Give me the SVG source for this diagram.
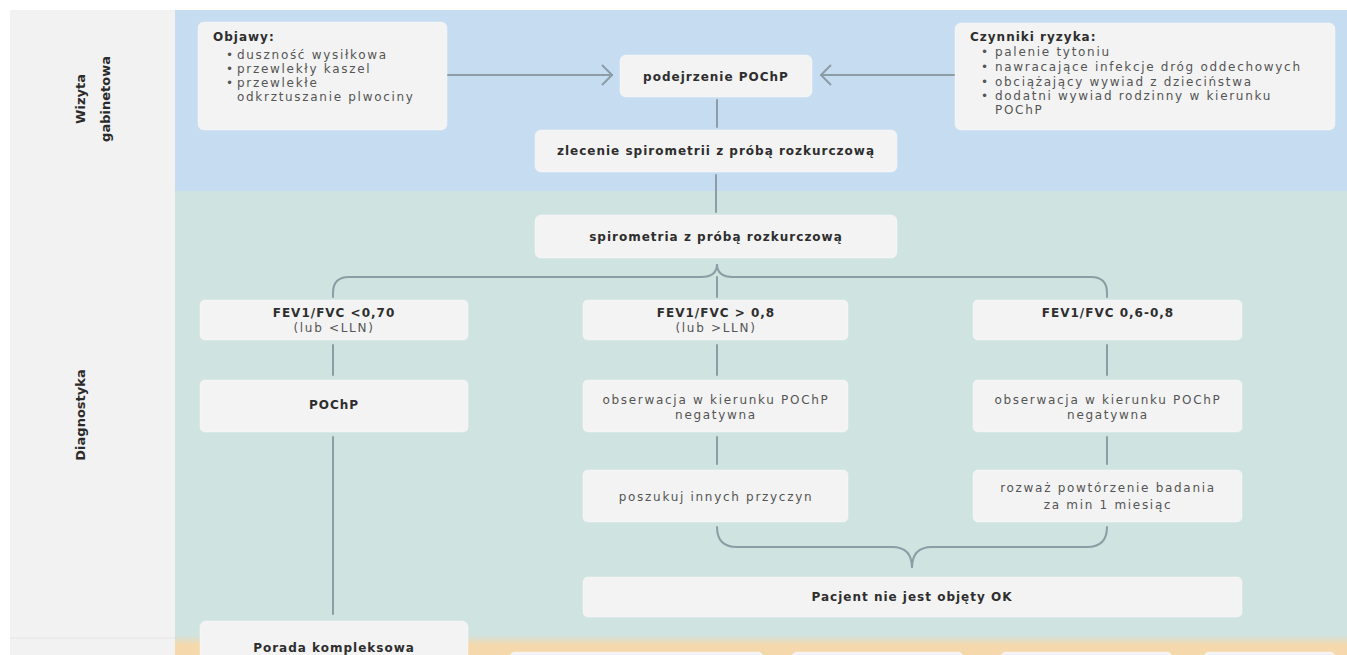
<svg xmlns="http://www.w3.org/2000/svg" width="1347" height="655" viewBox="0 0 1347 655">
<defs>
<style>
.lane-label{font-family:"DejaVu Sans",sans-serif;font-weight:bold;font-size:13px;fill:#2b2b2b;text-anchor:middle}
.b{font-family:"DejaVu Sans",sans-serif;font-weight:bold;font-size:12px;letter-spacing:1px;fill:#2e2e2e}
.r{font-family:"DejaVu Sans",sans-serif;font-size:12px;letter-spacing:1.7px;fill:#555}
.c{text-anchor:middle}
.box{fill:#f3f3f3;stroke:#ffffff;stroke-opacity:0.4;stroke-width:1}
.conn{fill:none;stroke:#8c9da5;stroke-width:2;stroke-linecap:round}
</style>
<marker id="chev" viewBox="0 0 12 22" refX="11" refY="11" markerWidth="12" markerHeight="22" markerUnits="userSpaceOnUse" orient="auto">
<path d="M1,1 L11,11 L1,21" fill="none" stroke="#8c9da5" stroke-width="2"/>
</marker>
<linearGradient id="fade" x1="0" y1="0" x2="0" y2="1">
<stop offset="0" stop-color="#cfe3e0"/>
<stop offset="1" stop-color="#f5d8ab"/>
</linearGradient>
</defs>
<rect width="1347" height="655" fill="#ffffff"/>
<g id="lanes">
<rect x="10" y="10" width="165" height="645" fill="#f2f2f2"/>
<line x1="10" y1="638" x2="175" y2="638" stroke="#e6e6e6" stroke-width="1"/>
<rect x="175" y="10" width="1172" height="181" fill="#c6dcf1"/>
<rect x="175" y="191" width="1172" height="444" fill="#cfe3e0"/>
<rect x="175" y="635" width="1172" height="10" fill="url(#fade)"/>
<rect x="175" y="645" width="1172" height="10" fill="#f5d8ab"/>
<text class="lane-label" transform="translate(85,99) rotate(-90)">Wizyta</text>
<text class="lane-label" transform="translate(110,99) rotate(-90)">gabinetowa</text>
<text class="lane-label" transform="translate(85,415) rotate(-90)">Diagnostyka</text>
</g>
<g id="connectors">
<line class="conn" x1="447" y1="75" x2="612" y2="75" marker-end="url(#chev)"/>
<line class="conn" x1="955" y1="75" x2="821" y2="75" marker-end="url(#chev)"/>
<line class="conn" x1="717" y1="100" x2="717" y2="127"/>
<line class="conn" x1="716" y1="175" x2="716" y2="212"/>
<path class="conn" d="M333,297 V293 Q333,277 349,277 H701 Q717,277 717,264 Q717,277 733,277 H1091 Q1107,277 1107,293 V297"/>
<line class="conn" x1="717" y1="277" x2="717" y2="297"/>
<line class="conn" x1="333" y1="345" x2="333" y2="375"/>
<line class="conn" x1="717" y1="345" x2="717" y2="375"/>
<line class="conn" x1="1107" y1="345" x2="1107" y2="375"/>
<line class="conn" x1="333" y1="437" x2="333" y2="614"/>
<line class="conn" x1="717" y1="437" x2="717" y2="464"/>
<line class="conn" x1="1107" y1="437" x2="1107" y2="464"/>
<path class="conn" d="M717,527 Q717,547 737,547 H892 Q912,547 912,568 Q912,547 932,547 H1087 Q1107,547 1107,527"/>
</g>
<g id="objawy">
<rect class="box" x="198" y="22" width="249" height="108" rx="6"/>
<text class="b" x="213" y="41">Objawy:</text>
<text class="r" x="226" y="59">•</text><text class="r" x="237" y="59">duszność wysiłkowa</text>
<text class="r" x="226" y="73">•</text><text class="r" x="237" y="73">przewlekły kaszel</text>
<text class="r" x="226" y="87">•</text><text class="r" x="237" y="87">przewlekłe</text>
<text class="r" x="237" y="101">odkrztuszanie plwociny</text>
</g>
<g id="podejrzenie">
<rect class="box" x="620" y="55" width="192" height="42" rx="6"/>
<text class="b c" x="716" y="81">podejrzenie POChP</text>
</g>
<g id="czynniki">
<rect class="box" x="955" y="23" width="380" height="107" rx="6"/>
<text class="b" x="970" y="41">Czynniki ryzyka:</text>
<text class="r" x="981" y="56">•</text><text class="r" x="995" y="56">palenie tytoniu</text>
<text class="r" x="981" y="71">•</text><text class="r" x="995" y="71">nawracające infekcje dróg oddechowych</text>
<text class="r" x="981" y="86">•</text><text class="r" x="995" y="86">obciążający wywiad z dzieciństwa</text>
<text class="r" x="981" y="100">•</text><text class="r" x="995" y="100">dodatni wywiad rodzinny w kierunku</text>
<text class="r" x="995" y="114">POChP</text>
</g>
<g id="zlecenie">
<rect class="box" x="535" y="130" width="362" height="42" rx="6"/>
<text class="b c" x="716" y="155">zlecenie spirometrii z próbą rozkurczową</text>
</g>
<g id="spirometria">
<rect class="box" x="535" y="215" width="362" height="43" rx="6"/>
<text class="b c" x="716" y="241">spirometria z próbą rozkurczową</text>
</g>
<g id="fev-low">
<rect class="box" x="200" y="300" width="268" height="40" rx="5"/>
<text class="b c" x="334" y="317">FEV1/FVC &lt;0,70</text>
<text class="r c" x="334" y="332">(lub &lt;LLN)</text>
</g>
<g id="fev-high">
<rect class="box" x="583" y="300" width="265" height="40" rx="5"/>
<text class="b c" x="716" y="317">FEV1/FVC &gt; 0,8</text>
<text class="r c" x="716" y="332">(lub &gt;LLN)</text>
</g>
<g id="fev-mid">
<rect class="box" x="973" y="300" width="269" height="40" rx="5"/>
<text class="b c" x="1108" y="317">FEV1/FVC 0,6-0,8</text>
</g>
<g id="pochp">
<rect class="box" x="200" y="380" width="268" height="52" rx="5"/>
<text class="b c" x="334" y="409">POChP</text>
</g>
<g id="obserwacja-1">
<rect class="box" x="583" y="380" width="265" height="52" rx="5"/>
<text class="r c" x="716" y="404">obserwacja w kierunku POChP</text>
<text class="r c" x="716" y="419">negatywna</text>
</g>
<g id="obserwacja-2">
<rect class="box" x="973" y="380" width="269" height="52" rx="5"/>
<text class="r c" x="1108" y="404">obserwacja w kierunku POChP</text>
<text class="r c" x="1108" y="419">negatywna</text>
</g>
<g id="poszukuj">
<rect class="box" x="583" y="470" width="265" height="52" rx="5"/>
<text class="r c" x="716" y="501">poszukuj innych przyczyn</text>
</g>
<g id="rozwaz">
<rect class="box" x="973" y="470" width="269" height="52" rx="5"/>
<text class="r c" x="1108" y="492">rozważ powtórzenie badania</text>
<text class="r c" x="1108" y="509">za min 1 miesiąc</text>
</g>
<g id="pacjent">
<rect class="box" x="583" y="577" width="659" height="40" rx="5"/>
<text class="b c" x="912" y="601">Pacjent nie jest objęty OK</text>
</g>
<g id="porada">
<rect class="box" x="200" y="621" width="268" height="44" rx="6"/>
<text class="b c" x="334" y="652">Porada kompleksowa</text>
</g>
<g id="bottom-1"><rect class="box" x="510" y="652" width="253" height="12" rx="5"/></g>
<g id="bottom-2"><rect class="box" x="792" y="652" width="171" height="12" rx="5"/></g>
<g id="bottom-3"><rect class="box" x="1001" y="652" width="171" height="12" rx="5"/></g>
<g id="bottom-4"><rect class="box" x="1204" y="652" width="131" height="12" rx="5"/></g>
</svg>
